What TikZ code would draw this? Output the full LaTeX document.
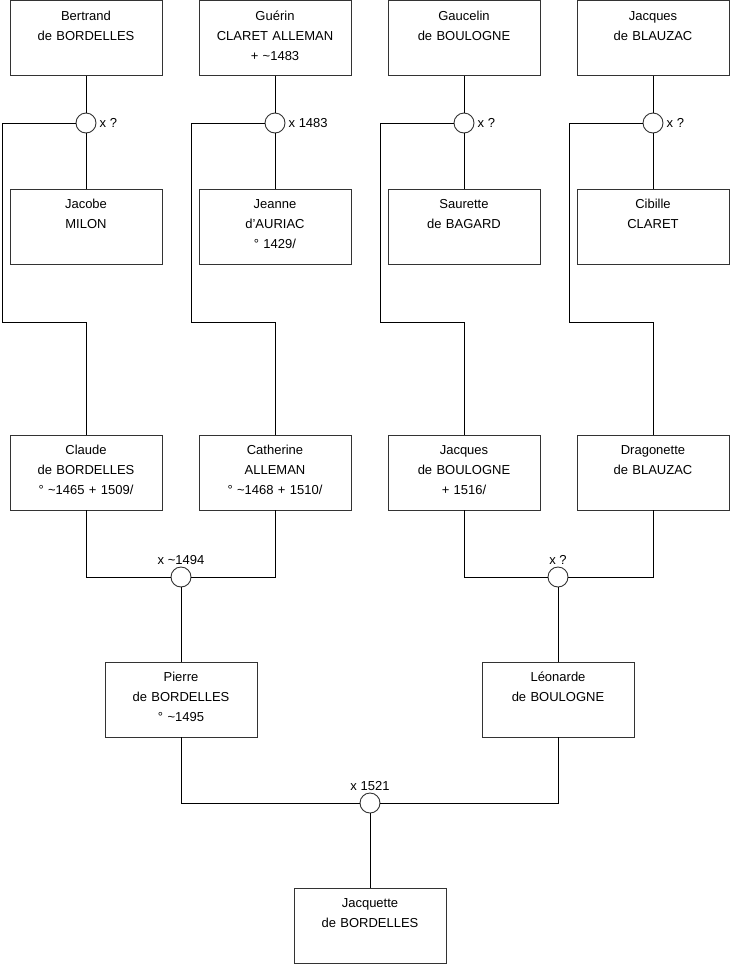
\documentclass[tikz,border=0pt]{standalone}
\usepackage{fontspec}
\setmainfont{Liberation Sans}
\usetikzlibrary{positioning}
\newcommand{\tld}{\textasciitilde}
\tikzset{
  personBox/.style={
    rectangle,
    draw=black!80,
    fill=white,
    line width=0.9pt,
    minimum width=152pt,
    minimum height=75pt,
    text width=146pt,
    inner sep=3pt,
    align=center,
    text height=10pt,
    text depth=45.7pt,
    font=\fontsize{13pt}{20pt}\selectfont
  },
  unionMark/.style={
    circle,
    draw=black!80,
    fill=white,
    line width=0.9pt,
    minimum size=20pt,
    inner sep=0pt
  },
  unionLabel/.style={
    inner sep=2pt,
    font=\fontsize{13pt}{16pt}\selectfont
  },
  link/.style={
    black,
    line width=0.9pt
  }
}

\begin{document}
\begin{tikzpicture}[x=1pt, y=-1pt]
\def\cA{86}   % column centres
\def\cB{275}
\def\cC{464}
\def\cD{653}
\def\turn{84} % offset of the side branch
\useasboundingbox (0,0) rectangle (740,975);

% === Generation 1 ===
\node[personBox] (bertrand) at (\cA,38) {Bertrand\\de BORDELLES};
\node[personBox] (guerin)   at (\cB,38) {Guérin\\CLARET ALLEMAN\\+ \tld1483};
\node[personBox] (gaucelin) at (\cC,38) {Gaucelin\\de BOULOGNE};
\node[personBox] (jacquesB) at (\cD,38) {Jacques\\de BLAUZAC};

% unions of generation 1
\node[unionMark] (m1) at (\cA,123) {};
\node[unionMark] (m2) at (\cB,123) {};
\node[unionMark] (m3) at (\cC,123) {};
\node[unionMark] (m4) at (\cD,123) {};
\node[unionLabel, right=1pt of m1] (m1lab) {x ?};
\node[unionLabel, right=1pt of m2] (m2lab) {x 1483};
\node[unionLabel, right=1pt of m3] (m3lab) {x ?};
\node[unionLabel, right=1pt of m4] (m4lab) {x ?};

% spouses
\node[personBox] (jacobe)   at (\cA,226.5) {Jacobe\\MILON};
\node[personBox] (jeanne)   at (\cB,226.5) {Jeanne\\d'AURIAC\\° 1429/};
\node[personBox] (saurette) at (\cC,226.5) {Saurette\\de BAGARD};
\node[personBox] (cibille)  at (\cD,226.5) {Cibille\\CLARET};

% === Generation 2 ===
\node[personBox] (claude)     at (\cA,472.5) {Claude\\de BORDELLES\\° \tld1465 + 1509/};
\node[personBox] (catherine)  at (\cB,472.5) {Catherine\\ALLEMAN\\° \tld1468 + 1510/};
\node[personBox] (jacquesBo)  at (\cC,472.5) {Jacques\\de BOULOGNE\\+ 1516/};
\node[personBox] (dragonette) at (\cD,472.5) {Dragonette\\de BLAUZAC};

\node[unionMark] (m5) at (181,577) {};
\node[unionMark] (m6) at (558,577) {};
\node[unionLabel, above=0pt of m5] (m5lab) {x \tld1494};
\node[unionLabel, above=0pt of m6] (m6lab) {x ?};

% === Generation 3 ===
\node[personBox] (pierre)   at (181,699.5) {Pierre\\de BORDELLES\\° \tld1495};
\node[personBox] (leonarde) at (558,699.5) {Léonarde\\de BOULOGNE};

\node[unionMark] (m7) at (370,803) {};
\node[unionLabel, above=0pt of m7] (m7lab) {x 1521};

% === Generation 4 ===
\node[personBox] (jacquette) at (370,925.5) {Jacquette\\de BORDELLES};

% --- side branches ---
\coordinate (turn1) at (\cA-\turn,322);
\coordinate (turn2) at (\cB-\turn,322);
\coordinate (turn3) at (\cC-\turn,322);
\coordinate (turn4) at (\cD-\turn,322);

% connectors
\draw[link] (bertrand) -- (m1) -- (jacobe);
\draw[link] (guerin)   -- (m2) -- (jeanne);
\draw[link] (gaucelin) -- (m3) -- (saurette);
\draw[link] (jacquesB) -- (m4) -- (cibille);
\draw[link] (m1) -| (turn1) -| (claude);
\draw[link] (m2) -| (turn2) -| (catherine);
\draw[link] (m3) -| (turn3) -| (jacquesBo);
\draw[link] (m4) -| (turn4) -| (dragonette);
\draw[link] (claude) |- (m5) -| (catherine);
\draw[link] (jacquesBo) |- (m6) -| (dragonette);
\draw[link] (m5) -- (pierre);
\draw[link] (m6) -- (leonarde);
\draw[link] (pierre) |- (m7) -| (leonarde);
\draw[link] (m7) -- (jacquette);

\end{tikzpicture}
\end{document}
